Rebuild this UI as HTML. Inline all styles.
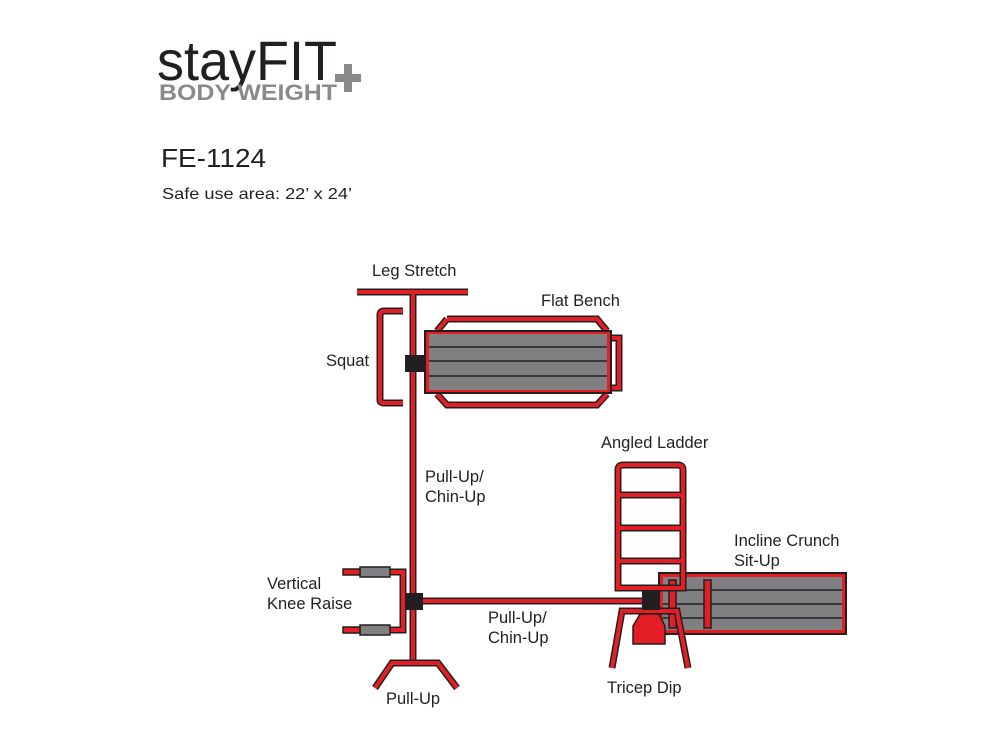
<!DOCTYPE html>
<html><head><meta charset="utf-8"><style>
html,body{margin:0;padding:0;background:#fff}
svg{display:block}
text{font-family:"Liberation Sans",sans-serif;fill:#231f20}
</style></head><body>
<svg width="1000" height="750" viewBox="0 0 1000 750" xmlns="http://www.w3.org/2000/svg">
<defs>
<style>
.o{stroke:#231f20;stroke-width:7;fill:none;stroke-linejoin:miter}
.r{stroke:#e31e25;stroke-width:4;fill:none;stroke-linejoin:miter}
</style>
</defs>
<!-- logo -->
<text x="157" y="80" font-size="56" textLength="180" lengthAdjust="spacingAndGlyphs">stayFIT</text>
<text x="159" y="100" font-size="22" font-weight="bold" style="fill:#8a8a8c" textLength="178" lengthAdjust="spacingAndGlyphs">BODY WEIGHT</text>
<rect x="335" y="74" width="26" height="8" fill="#8a8a8c"/>
<rect x="344" y="64" width="8" height="28" fill="#8a8a8c"/>
<text x="161" y="167" font-size="26" textLength="105" lengthAdjust="spacingAndGlyphs">FE-1124</text>
<text x="162" y="199" font-size="16" textLength="190" lengthAdjust="spacingAndGlyphs">Safe use area:  22’ x 24’</text>

<!-- labels -->
<g font-size="16.5">
<text x="372" y="276" font-size="16.5">Leg Stretch</text>
<text x="541" y="306" font-size="16.5">Flat Bench</text>
<text x="326" y="366" font-size="16.5">Squat</text>
<text x="425" y="482" font-size="16.5">Pull-Up/</text>
<text x="425" y="502" font-size="16.5">Chin-Up</text>
<text x="601" y="448" font-size="16.5">Angled Ladder</text>
<text x="734" y="546" font-size="16.5">Incline Crunch</text>
<text x="734" y="566" font-size="16.5">Sit-Up</text>
<text x="267" y="589" font-size="16.5">Vertical</text>
<text x="267" y="609" font-size="16.5">Knee Raise</text>
<text x="488" y="623" font-size="16.5">Pull-Up/</text>
<text x="488" y="643" font-size="16.5">Chin-Up</text>
<text x="386" y="704" font-size="16.5">Pull-Up</text>
<text x="607" y="693" font-size="16.5">Tricep Dip</text>
</g>

<!-- flat bench frame -->
<g>
<path class="o" d="M447,319 L597,319 L607,331 M607,394 L597,405 L447,405 L437,394 M437,331 L447,319"/>
<path class="r" d="M447,319 L597,319 L607,331 M607,394 L597,405 L447,405 L437,394 M437,331 L447,319"/>
<path class="o" d="M612,338 L619,338 L619,388 L612,388"/>
<path class="r" d="M612,338 L619,338 L619,388 L612,388"/>
<rect x="424" y="330" width="188" height="64" fill="#231f20"/>
<rect x="426" y="332" width="184" height="60" fill="#e31e25"/>
<rect x="429" y="334" width="178" height="56" fill="#808083"/>
<line x1="429" y1="347" x2="607" y2="347" stroke="#231f20" stroke-width="1.5"/>
<line x1="429" y1="361" x2="607" y2="361" stroke="#231f20" stroke-width="1.5"/>
<line x1="429" y1="376" x2="607" y2="376" stroke="#231f20" stroke-width="1.5"/>
</g>
<!-- squat pad -->
<path class="o" d="M403,311 L384,311 Q380,311 380,315 L380,400 Q380,403 384,403 L403,403"/>
<path class="r" d="M403,311 L384,311 Q380,311 380,315 L380,400 Q380,403 384,403 L403,403"/>
<!-- leg stretch bar and pole -->
<path class="o" d="M357,292 L468,292 M413,292 L413,662"/>
<path class="r" d="M357,292 L468,292 M413,292 L413,662"/>
<!-- pull-up base -->
<path class="o" d="M375,688 L392,663 L438,663 L457,688"/>
<path class="r" d="M375,688 L392,663 L438,663 L457,688"/>
<!-- horizontal bar -->
<path class="o" d="M413,601 L645,601"/>
<path class="r" d="M413,601 L645,601"/>
<!-- knee raise -->
<path class="o" d="M390,572 L403,572 L403,630 L390,630"/>
<path class="r" d="M390,572 L403,572 L403,630 L390,630"/>
<rect x="360" y="567" width="30" height="10" fill="#808083" stroke="#231f20" stroke-width="1.5"/>
<rect x="360" y="625" width="30" height="10" fill="#808083" stroke="#231f20" stroke-width="1.5"/>
<rect x="343" y="569" width="17" height="6" fill="#e31e25" stroke="#231f20" stroke-width="1.5"/>
<rect x="343" y="627" width="17" height="6" fill="#e31e25" stroke="#231f20" stroke-width="1.5"/>
<!-- clamps -->
<rect x="405" y="355" width="19" height="17" fill="#231f20"/>
<rect x="405" y="593" width="18" height="17" fill="#231f20"/>

<!-- incline crunch -->
<rect x="658" y="572" width="189" height="63" fill="#231f20"/>
<rect x="660" y="574" width="185" height="59" fill="#e31e25"/>
<rect x="663" y="577" width="179" height="53" fill="#808083"/>
<line x1="663" y1="590" x2="842" y2="590" stroke="#231f20" stroke-width="1.5"/>
<line x1="663" y1="604" x2="842" y2="604" stroke="#231f20" stroke-width="1.5"/>
<line x1="663" y1="618" x2="842" y2="618" stroke="#231f20" stroke-width="1.5"/>
<rect x="704" y="580" width="7" height="48" fill="#e31e25" stroke="#231f20" stroke-width="1.5"/>
<rect x="669" y="580" width="7" height="48" fill="#e31e25" stroke="#231f20" stroke-width="1.5"/>
<!-- ladder -->
<path class="o" d="M618,588 L618,470 Q618,465 623,465 L678,465 Q683,465 683,470 L683,588 Z M618,495 L683,495 M618,528 L683,528 M618,561 L683,561"/>
<path class="r" d="M618,588 L618,470 Q618,465 623,465 L678,465 Q683,465 683,470 L683,588 Z M618,495 L683,495 M618,528 L683,528 M618,561 L683,561"/>
<!-- tricep dip -->
<path class="o" d="M612,668 L622,611 L677,611 L688,668"/>
<path class="r" d="M612,668 L622,611 L677,611 L688,668"/>
<path d="M640,614 L659,614 L665,626 L665,644 L633,644 L633,626 Z" fill="#e31e25" stroke="#231f20" stroke-width="1.5"/>
<rect x="642" y="590" width="18" height="20" fill="#231f20"/>
</svg>
</body></html>
